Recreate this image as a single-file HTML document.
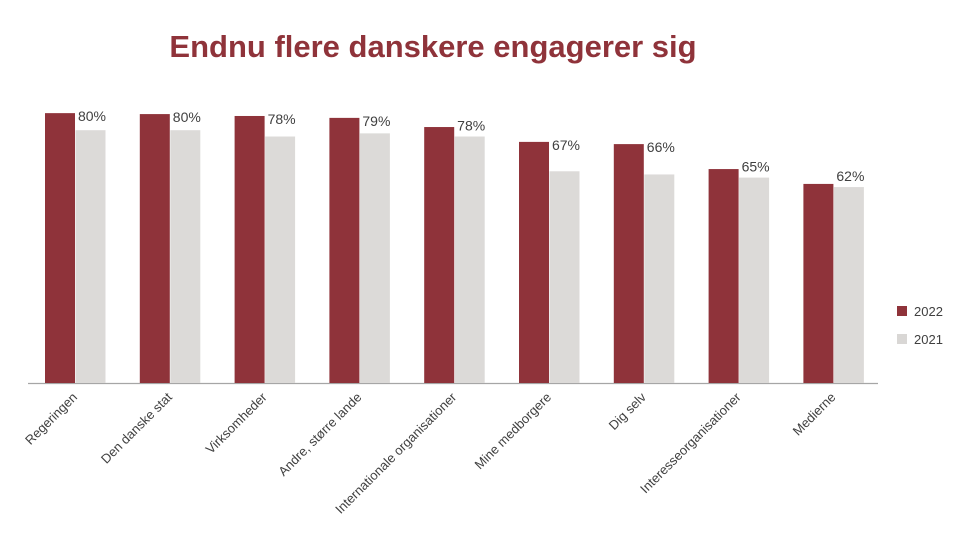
<!DOCTYPE html>
<html><head><meta charset="utf-8"><style>
body{margin:0;background:#fff;width:960px;height:536px;overflow:hidden;font-family:"Liberation Sans",sans-serif}
</style></head><body>
<svg width="960" height="536">
<text x="433" y="57" text-anchor="middle" font-size="31" font-weight="bold" fill="#8f333a">Endnu flere danskere engagerer sig</text>
<line x1="28" y1="383.5" x2="878" y2="383.5" stroke="#a6a6a6" stroke-width="1.3"/>
<g id="bars"></g>
<rect x="897" y="306" width="10" height="10" fill="#8f333a"/>
<text x="914" y="316" font-size="13" fill="#404040">2022</text>
<rect x="897" y="334" width="10" height="10" fill="#d9d7d5"/>
<text x="914" y="344" font-size="13" fill="#404040">2021</text>
</svg>
<script>
const categories=["Regeringen","Den danske stat","Virksomheder","Andre, større lande","Internationale organisationer","Mine medborgere","Dig selv","Interesseorganisationer","Medierne"];
const values2022=[85.4,85.1,84.5,83.9,81,76.3,75.6,67.7,63];
const values2021=[80,80,78,79,78,67,66,65,62];
const labels2021=["80%","80%","78%","79%","78%","67%","66%","65%","62%"];
const NS="http://www.w3.org/2000/svg";
const g=document.getElementById('bars');
const y=v=>383-v*3.16;
const x=i=>45+i*94.8;
function mk(t,a){const e=document.createElementNS(NS,t);for(const k in a)e.setAttribute(k,a[k]);g.appendChild(e);return e;}
categories.forEach((c,i)=>{
 const r1=mk('rect',{x:x(i),y:y(values2022[i]),width:30,height:383-y(values2022[i]),fill:'#8f333a'});
 
 
 const r2=mk('rect',{x:x(i)+30.5,y:y(values2021[i]),width:30,height:383-y(values2021[i]),fill:'#dcdad8'});
 
 
 const t=mk('text',{x:x(i)+47,y:Math.min(y(values2021[i]),y(values2022[i])+14)-6,'text-anchor':'middle','font-size':'14',fill:'#404040'});
 t.textContent=labels2021[i];
 
 
 const cx=x(i)+33,cy=398;
 const l=mk('text',{x:cx,y:cy,'text-anchor':'end','font-size':'13',fill:'#404040',transform:`rotate(-45 ${cx} ${cy})`});
 l.textContent=c;
 
 
});
</script>
</body></html>
